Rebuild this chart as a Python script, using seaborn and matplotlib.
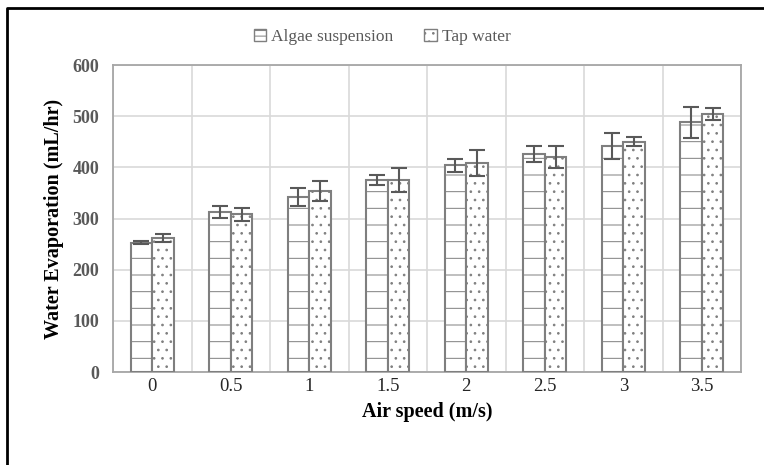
import numpy as np
import pandas as pd
import matplotlib
matplotlib.use('Agg')
import matplotlib.pyplot as plt
import seaborn as sns
from matplotlib.lines import Line2D
from matplotlib.patches import Patch

speeds = ['0', '0.5', '1', '1.5', '2', '2.5', '3', '3.5']
series = ['Algae suspension', 'Tap water']
algae = [253, 313, 342, 375, 404, 426, 442, 488]
algae_err = [3, 12, 18, 10, 13, 15, 25, 30]
tap = [262, 308, 354, 375, 409, 420, 450, 504]
tap_err = [8, 12, 20, 23, 25, 21, 9, 11]
yticks = [0, 100, 200, 300, 400, 500, 600]

df = pd.DataFrame({
    'speed': speeds * 2,
    'value': algae + tap,
    'series': [series[0]] * len(speeds) + [series[1]] * len(speeds),
})

sns.set_theme(style='white')
plt.rcParams['font.family'] = ['Liberation Serif', 'DejaVu Serif']
plt.rcParams['hatch.linewidth'] = 0.7

edge = '#7f7f7f'
fig = plt.figure(figsize=(7.64, 4.65), dpi=100)
ax = fig.add_axes([113 / 764, 1 - 372 / 465, 628 / 764, 307 / 465])

sns.barplot(data=df, x='speed', y='value', hue='series', order=speeds,
            hue_order=series, palette=['white', 'white'], saturation=1,
            width=0.55, gap=0, edgecolor=edge, linewidth=1.5,
            errorbar=None, legend=False, ax=ax, zorder=3)

hatches = ['-', '..']
for cont, h, errs in zip(ax.containers, hatches, [algae_err, tap_err]):
    xs, ys = [], []
    for bar in cont:
        bar.set_hatch(h)
        xs.append(bar.get_x() + bar.get_width() / 2)
        ys.append(bar.get_height())
    ax.errorbar(xs, ys, yerr=errs, fmt='none', ecolor='#595959',
                elinewidth=1.5, capsize=5.5, capthick=1.5, zorder=5)

ax.set_ylim(0, 600)
ax.set_xlim(-0.5, len(speeds) - 0.5)
ax.set_yticks(yticks)
ax.set_yticklabels([str(t) for t in yticks], fontweight='bold', color='#595959', fontsize=13)
ax.set_xticks(range(len(speeds)))
ax.set_xticklabels(speeds, fontsize=13.5, color='#262626')
ax.set_xticks(np.arange(-0.5, len(speeds), 1.0), minor=True)
ax.tick_params(axis='x', which='major', length=0, pad=4)
ax.tick_params(axis='x', which='minor', length=4, color='#bfbfbf', direction='out')
ax.tick_params(axis='y', length=0, pad=10)
ax.grid(axis='y', color='#d9d9d9', linewidth=1.2, zorder=0)
ax.grid(axis='x', which='minor', color='#d9d9d9', linewidth=1.2, zorder=0)
ax.set_axisbelow(True)
for s in ax.spines.values():
    s.set_visible(True)
    s.set_color('#a6a6a6')
    s.set_linewidth(1.3)

ax.set_xlabel('Air speed (m/s)', fontweight='bold', fontsize=14.5, color='black', labelpad=5)
ax.set_ylabel('Water Evaporation (mL/hr)', fontweight='bold', fontsize=14.5, color='black', labelpad=6)

handles = [Patch(facecolor='white', edgecolor=edge, hatch=h, linewidth=1)
           for h in ['---', '..']]
fig.legend(handles, series, loc='center', bbox_to_anchor=(0.5, 1 - 37 / 465), ncol=2,
           frameon=False, fontsize=12.5, labelcolor='#595959', handlelength=0.7,
           handleheight=0.7, handletextpad=0.3, columnspacing=1.8)

fig.add_artist(Line2D([7 / 764, 7 / 764, 1.0], [0.0, 1 - 8 / 465, 1 - 8 / 465],
                      transform=fig.transFigure, color='black', linewidth=2))

fig.savefig('out.png', dpi=100)
